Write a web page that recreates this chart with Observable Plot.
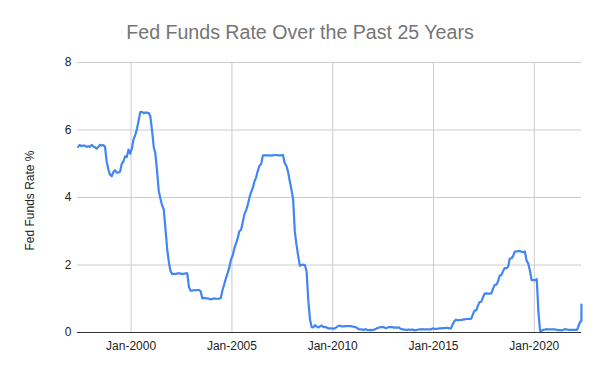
<!DOCTYPE html>
<html><head><meta charset="utf-8">
<script src="https://cdn.jsdelivr.net/npm/d3@7"></script>
<script src="https://cdn.jsdelivr.net/npm/@observablehq/plot@0.6"></script>
<style>
html,body{margin:0;padding:0;background:#fff}
#wrap{position:relative;width:600px;height:371px;overflow:hidden}
#title{position:absolute;left:0;top:20.5px;width:600px;text-align:center;font-family:"Liberation Sans",Arial,sans-serif;font-size:19.6px;line-height:22px;color:#757575}
#chart{position:absolute;left:0;top:0}
</style></head>
<body>
<div id="wrap"><div id="chart"></div><div id="title"></div></div>
<script>
const titleText = "Fed Funds Rate Over the Past 25 Years";
const yLabel = "Fed Funds Rate %";
const yTicks = [0, 2, 4, 6, 8];
const xTickYears = [2000, 2005, 2010, 2015, 2020];
// monthly average effective fed funds rate, starting May 1997
const startYear = 1997, startMonth = 4;
const rates = [
  5.50, 5.56, 5.52, 5.54, 5.54, 5.50, 5.52, 5.50,
  5.56, 5.51, 5.49, 5.45, 5.49, 5.56, 5.54, 5.55, 5.51, 5.07, 4.83, 4.68,
  4.63, 4.76, 4.81, 4.74, 4.74, 4.76, 4.99, 5.07, 5.22, 5.20, 5.42, 5.30,
  5.45, 5.73, 5.85, 6.02, 6.27, 6.53, 6.54, 6.50, 6.52, 6.51, 6.51, 6.40,
  5.98, 5.49, 5.31, 4.80, 4.21, 3.97, 3.77, 3.65, 3.07, 2.49, 2.09, 1.82,
  1.73, 1.74, 1.73, 1.75, 1.75, 1.75, 1.73, 1.74, 1.75, 1.75, 1.34, 1.24,
  1.24, 1.26, 1.25, 1.26, 1.26, 1.22, 1.01, 1.03, 1.01, 1.01, 1.00, 0.98,
  1.00, 1.01, 1.00, 1.00, 1.00, 1.03, 1.26, 1.43, 1.61, 1.76, 1.93, 2.16,
  2.28, 2.50, 2.63, 2.79, 3.00, 3.04, 3.26, 3.50, 3.62, 3.78, 4.00, 4.16,
  4.29, 4.49, 4.59, 4.79, 4.94, 4.99, 5.24, 5.25, 5.25, 5.25, 5.25, 5.24,
  5.25, 5.26, 5.26, 5.25, 5.25, 5.25, 5.26, 5.02, 4.94, 4.76, 4.49, 4.24,
  3.94, 2.98, 2.61, 2.28, 1.98, 2.00, 2.01, 2.00, 1.81, 0.97, 0.39, 0.16,
  0.15, 0.22, 0.18, 0.15, 0.18, 0.21, 0.16, 0.16, 0.15, 0.12, 0.12, 0.12,
  0.11, 0.13, 0.16, 0.20, 0.20, 0.18, 0.18, 0.19, 0.19, 0.19, 0.19, 0.18,
  0.17, 0.16, 0.14, 0.10, 0.09, 0.09, 0.07, 0.10, 0.08, 0.07, 0.08, 0.07,
  0.08, 0.10, 0.13, 0.14, 0.16, 0.16, 0.16, 0.13, 0.14, 0.16, 0.16, 0.16,
  0.14, 0.15, 0.14, 0.15, 0.11, 0.09, 0.09, 0.08, 0.08, 0.09, 0.08, 0.09,
  0.07, 0.07, 0.08, 0.09, 0.09, 0.10, 0.09, 0.09, 0.09, 0.09, 0.09, 0.12,
  0.11, 0.11, 0.11, 0.12, 0.12, 0.13, 0.13, 0.14, 0.14, 0.12, 0.12, 0.24,
  0.34, 0.38, 0.36, 0.37, 0.37, 0.38, 0.39, 0.40, 0.40, 0.40, 0.41, 0.54,
  0.65, 0.66, 0.79, 0.90, 0.91, 1.04, 1.15, 1.16, 1.15, 1.15, 1.16, 1.30,
  1.41, 1.42, 1.51, 1.69, 1.70, 1.82, 1.91, 1.91, 1.95, 2.19, 2.20, 2.27,
  2.40, 2.40, 2.41, 2.42, 2.39, 2.38, 2.40, 2.13, 2.04, 1.83, 1.55, 1.55,
  1.55, 1.58, 0.65, 0.05, 0.05, 0.08, 0.09, 0.10, 0.09, 0.09, 0.09, 0.09,
  0.09, 0.08, 0.07, 0.07, 0.06, 0.08, 0.10, 0.09, 0.08, 0.08, 0.08, 0.08,
  0.08, 0.08, 0.20, 0.33
];
// final daily readings (May 2022)
const tailDates = ["2022-05-04", "2022-05-05"];
const tailRates = [0.33, 0.83];
const domainStart = "1997-05-05", domainEnd = "2022-05-06";

document.getElementById("title").textContent = titleText;

const data = rates.map((r, i) => ({date: new Date(Date.UTC(startYear, startMonth + i, 15)), rate: r}))
  .concat(tailDates.map((d, i) => ({date: new Date(d + "T00:00:00Z"), rate: tailRates[i]})));
const xTicks = xTickYears.map(y => new Date(Date.UTC(y, 0, 1)));

const chart = Plot.plot({
  width: 600, height: 371,
  marginTop: 62, marginBottom: 39, marginLeft: 77, marginRight: 19,
  style: {fontFamily: "'Liberation Sans', Arial, sans-serif", fontSize: "12px", color: "#222", background: "#fff"},
  x: {type: "utc", domain: [new Date(domainStart + "T00:00:00Z"), new Date(domainEnd + "T00:00:00Z")]},
  y: {domain: [0, 8]},
  marks: [
    Plot.gridY(yTicks.filter(d => d > 0), {stroke: "#cccccc", strokeOpacity: 1}),
    Plot.gridX(xTicks, {stroke: "#cccccc", strokeOpacity: 1}),
    Plot.axisY(yTicks, {tickSize: 0, tickPadding: 6, label: null, fill: "#222"}),
    Plot.axisX(xTicks, {tickSize: 0, tickPadding: 9, label: null, tickFormat: d3.utcFormat("%b-%Y"), fill: "#222"}),
    Plot.ruleY([0], {stroke: "#333"}),
    Plot.line(data, {x: "date", y: "rate", stroke: "#4285F4", strokeWidth: 2.2}),
    Plot.text([yLabel], {frameAnchor: "left", textAnchor: "middle", dx: -47, dy: 3, rotate: -90, fill: "#222", fontSize: 12})
  ]
});
document.getElementById("chart").appendChild(chart);
</script>
</body></html>
